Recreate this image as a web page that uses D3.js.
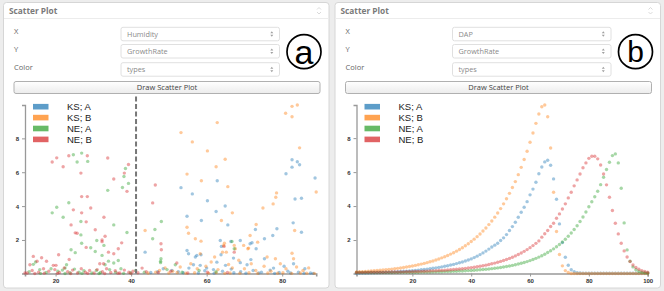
<!DOCTYPE html>
<html>
<head>
<meta charset="utf-8">
<script src="https://cdn.jsdelivr.net/npm/d3@7.9.0/dist/d3.min.js"></script>
<style>
  html, body { margin: 0; padding: 0; background: #ededed; }
  svg { display: block; }
  .ui { font-family: "Open Sans", "DejaVu Sans", sans-serif; }
  .axis text { font-family: "Liberation Sans", Arial, sans-serif; font-size: 6px; font-weight: bold; fill: #333; }
  .axis path, .axis line { stroke: #999; }
  .legend text { font-family: "Liberation Sans", Arial, sans-serif; font-size: 9.5px; fill: #222; }
</style>
</head>
<body>
<script>
// ─── DATA ────────────────────────────────────────────────────────────────────
const seriesNames = ['KS; A', 'KS; B', 'NE; A', 'NE; B'];

// panel (a) : [Humidity, GrowthRate]
const humKSA = [
  [53.2,5.09],[62.8,5.5],[56.2,4.72],[82.6,6.74],[84.0,6.62],[84.6,6.44],[82.6,6.3],[81.0,5.91],[88.7,5.66],
  [60.2,4.32],[64.9,4.01],[62.5,3.68],[54.8,3.4],[58.6,3.15],[65.6,2.89],[83.4,4.42],[85.1,4.46],
  [82.9,3.01],[85.1,2.46],[78.6,2.66],[77.5,2.26],[75.3,2.07],[72.9,2.62],[72.0,1.84],[73.1,1.48],
  [63.6,1.97],[66.4,1.91],[68.9,1.97],[71.5,1.78],[63.9,1.62],
  [54.8,1.38],[55.2,1.19],[57.0,0.99],[58.5,1.13],[43.7,1.28],[57.4,1.09],[63.8,1.13],[67.1,0.93],[71.7,0.84],[75.3,0.89],
  [56.5,0.54],[55.3,0.34],[58.3,0.5],[60.0,0.34],[62.7,0.69],[65.0,0.5],[68.9,0.66],[70.7,0.54],[77.7,0.34],[80.5,0.45],[83.0,0.6],[86.0,0.3],
  [48.5,0.3],[50.8,0.2],[52.5,0.12],[59.5,0.18],[61.8,0.25],[64.2,0.15],[66.5,0.28],[69.0,0.12],[72.3,0.2],[74.5,0.1],[76.8,0.22],[79.2,0.08],[81.5,0.15],[84.3,0.1],[87.5,0.05],
  [45.2,0.08],[47.0,0.12],[53.8,0.06],[57.8,0.05],[62.0,0.04],[67.2,0.06],[70.4,0.04],[73.8,0.05],[78.0,0.03],[82.2,0.05],[85.8,0.04],[88.2,0.03]
];
const humKSB = [
  [53.2,8.34],[62.8,8.93],[56.2,7.79],[60.2,7.26],[64.9,6.77],[62.5,6.32],[54.8,5.89],[58.6,5.5],[65.6,5.15],[78.5,4.78],
  [80.9,9.48],[82.6,9.28],[82.6,9.89],[84.0,9.97],[84.6,7.44],[89.0,4.83],
  [66.8,3.6],[63.9,3.15],[54.8,2.75],[55.2,2.4],[57.0,2.07],[58.5,1.93],[64.7,1.81],[64.2,1.28],[62.1,0.99],[67.3,1.68],
  [74.9,3.89],[77.6,4.13],[78.3,4.52],[73.1,2.91],[69.8,1.68],[70.9,1.48],[83.3,2.56],[82.6,1.22],[43.7,2.56],
  [58.3,1.19],[64.5,1.68],[65.2,1.28],[67.6,1.48],[71.5,2.26],[71.1,1.52],[73.5,1.87],[76.0,0.99],[78.2,0.89],[83.0,0.89],
  [47.5,0.2],[49.0,0.35],[51.0,0.15],[53.0,0.4],[55.8,0.6],[57.5,0.3],[59.8,0.45],[61.2,0.7],[63.0,0.25],[65.8,0.55],[66.8,0.35],
  [68.5,0.8],[70.0,0.3],[71.8,0.6],[73.0,0.2],[75.2,0.45],[77.0,0.15],[79.5,0.6],[81.0,0.3],[83.8,0.4],[85.5,0.2],[87.0,0.35],
  [44.5,0.05],[46.5,0.1],[50.0,0.05],[52.2,0.08],[54.5,0.04],[56.8,0.06],[60.5,0.04],[62.5,0.07],[64.8,0.03],[66.2,0.05],
  [68.8,0.04],[71.2,0.06],[73.5,0.03],[76.2,0.05],[78.8,0.04],[80.2,0.06],[82.5,0.03],[84.8,0.05],[86.5,0.04],[88.5,0.03]
];
const humNEA = [
  [24.7,7.03],[26.9,7.13],[25.7,6.6],[28.5,6.64],[38.5,6.22],[38.1,5.75],[39.3,5.34],[37.7,5.1],[33.8,4.93],
  [20.3,3.93],[19.1,3.6],[23.5,4.2],[22.0,3.34],[26.7,3.09],[26.7,2.3],[35.4,2.89],[32.8,1.68],[38.9,2.44],
  [30.9,1.97],[29.3,1.54],[26.9,1.81],[24.1,1.42],[25.2,1.25],[30.5,1.32],[32.3,1.09],[34.0,0.75],[35.4,0.64],[36.6,0.79],
  [14.1,0.56],[14.7,0.7],[22.9,0.54],[22.5,0.34],[33.1,0.54],[46.3,2.62],[45.7,2.07],[48.0,3.09],[47.9,0.89],[47.8,0.74],
  [47.8,0.66],[51.7,0.54],[66.7,1.91],[67.3,1.48],
  [13.0,0.12],[15.8,0.25],[17.5,0.08],[18.8,0.3],[20.6,0.15],[21.8,0.22],[23.8,0.06],[25.0,0.28],[26.2,0.1],[27.5,0.18],
  [29.6,0.05],[30.8,0.2],[31.9,0.08],[34.3,0.25],[35.9,0.1],[37.3,0.3],[39.8,0.06],[41.2,0.2],[43.5,0.1],[49.5,0.25],
  [53.5,0.1],[58.0,0.2],[62.5,0.12],[16.0,0.03],[22.5,0.02],[27.0,0.03],[31.5,0.02],[38.0,0.03]
];
const humNEB = [
  [19.1,6.6],[20.3,6.85],[23.5,6.97],[28.4,6.97],[22.0,6.32],[33.8,6.84],[26.7,5.95],[39.3,6.46],[38.2,5.95],[35.4,5.6],
  [38.9,4.87],[46.4,5.25],[26.9,4.56],[28.4,4.56],[45.7,4.19],[24.7,3.78],[26.9,3.6],[29.3,3.89],[32.8,3.34],[28.1,3.07],
  [24.1,2.89],[25.2,2.42],[25.7,2.4],[30.5,2.6],[33.1,2.22],[32.3,2.0],[32.3,1.9],[37.5,1.83],[36.6,1.48],[35.4,1.19],
  [34.0,1.28],[28.1,1.56],[47.9,1.78],[48.0,1.42],[64.6,1.62],[67.3,1.28],[20.8,1.13],[16.3,0.95],[14.1,1.03],[15.1,0.74],
  [17.6,0.74],[23.6,0.85],[32.7,0.6],[31.7,0.6],[13.2,0.54],[19.4,0.5],[20.1,0.5],[52.1,0.64],[42.9,0.34],
  [11.9,0.05],[12.5,0.05],[13.8,0.2],[15.5,0.1],[16.8,0.3],[18.2,0.15],[19.8,0.25],[21.0,0.08],[22.3,0.35],[23.2,0.12],
  [24.5,0.22],[25.8,0.05],[26.8,0.3],[27.9,0.1],[29.0,0.2],[30.2,0.05],[31.0,0.25],[32.4,0.12],[33.5,0.3],[34.6,0.08],
  [35.8,0.18],[37.0,0.05],[38.2,0.22],[39.4,0.1],[40.5,0.15],[41.8,0.06],[44.0,0.12],[47.2,0.08],[50.5,0.15],[55.0,0.05],
  [60.2,0.1],[65.5,0.08],[14.5,0.02],[17.0,0.04],[20.5,0.03],[24.0,0.02],[28.5,0.03],[33.0,0.02],[36.5,0.04],[40.0,0.03]
];
const splitHumidity = 41.3;

// panel (b) : GrowthRate by DAP
const dapDays = [
  1,2,3,4,5,6,7,8,9,10,11,12,13,14,15,16,17,18,19,20,21,22,23,24,25,26,27,28,29,30,31,32,33,34,35,36,37,38,39,40,
  41,42,43,44,45,46,47,48,49,50,51,52,53,54,55,56,57,58,59,60,61,62,63,64,65,66,67,68,69,70,71,72,73,74,75,76,77,78,79,80,
  81,82,83,84,85,86,87,88,89,90,91,92,93,94,95,96,97,98,99,100
];
const dapKSA = [
  0.048,0.051,0.055,0.060,0.064,0.070,0.075,0.081,0.087,0.094,0.101,0.109,0.117,0.127,0.137,0.147,0.159,0.171,0.184,0.199,
  0.214,0.231,0.249,0.268,0.289,0.311,0.336,0.362,0.390,0.420,0.453,0.488,0.527,0.567,0.612,0.659,0.711,0.766,0.826,0.89,
  0.967,1.051,1.142,1.242,1.349,1.466,1.594,1.70,1.81,1.97,2.13,2.32,2.56,2.79,3.05,3.34,3.64,3.93,4.26,4.66,
  5.0,5.4,5.9,6.3,6.6,6.7,6.4,5.6,4.4,2.95,1.85,0.99,0.52,0.25,0.13,0.07,0.06,0.05,0.05,0.05,
  0.05,0.05,0.05,0.05,0.05,0.05,0.05,0.05,0.05,0.05,0.05,0.05,0.05,0.05,0.05,0.05,0.05,0.05,0.05,0.05
];
const dapKSB = [
  0.125,0.134,0.143,0.154,0.165,0.177,0.190,0.204,0.218,0.234,0.251,0.269,0.289,0.310,0.332,0.356,0.382,0.410,0.440,0.471,
  0.506,0.542,0.582,0.624,0.669,0.718,0.770,0.825,0.885,0.950,1.018,1.092,1.171,1.256,1.347,1.445,1.550,1.662,1.783,1.912,
  2.051,2.199,2.359,2.530,2.713,2.910,3.121,3.347,3.590,3.850,4.130,4.429,4.75,5.09,5.44,5.85,6.28,6.74,7.23,7.76,
  8.30,8.87,9.42,9.85,9.95,9.26,7.42,4.81,2.5,1.15,0.48,0.2,0.09,0.03,0.03,0.03,0.03,0.03,0.03,0.03,
  0.03,0.03,0.03,0.03,0.03,0.03,0.03,0.03,0.03,0.03,0.03,0.03,0.03,0.03,0.03,0.03,0.03,0.03,0.03,0.03
];
const dapNEA = [
  0.085,0.085,0.086,0.086,0.087,0.087,0.088,0.089,0.089,0.090,0.091,0.092,0.093,0.094,0.096,0.097,0.099,0.100,0.102,0.104,
  0.106,0.108,0.111,0.114,0.116,0.120,0.123,0.127,0.131,0.136,0.141,0.146,0.152,0.158,0.165,0.173,0.181,0.190,0.200,0.210,
  0.222,0.234,0.248,0.263,0.279,0.297,0.316,0.337,0.359,0.384,0.411,0.440,0.472,0.507,0.545,0.586,0.631,0.679,0.732,0.790,
  0.853,0.921,0.996,1.077,1.166,1.262,1.367,1.481,1.605,1.741,1.888,2.048,2.223,2.413,2.620,2.845,3.090,3.357,3.648,3.964,
  4.25,4.55,4.87,5.26,5.7,6.15,6.58,6.97,7.07,6.54,5.05,3.01,1.42,0.75,0.42,0.25,0.16,0.11,0.08,0.06
];
const dapNEB = [
  0.093,0.094,0.095,0.097,0.098,0.100,0.101,0.103,0.105,0.107,0.109,0.112,0.114,0.117,0.120,0.124,0.127,0.131,0.135,0.140,
  0.145,0.150,0.156,0.163,0.169,0.177,0.185,0.194,0.203,0.213,0.225,0.237,0.250,0.264,0.279,0.296,0.314,0.333,0.354,0.377,
  0.402,0.428,0.457,0.489,0.523,0.560,0.600,0.643,0.690,0.741,0.796,0.855,0.920,0.990,1.066,1.148,1.237,1.333,1.438,1.551,
  1.673,1.806,1.950,2.17,2.37,2.56,2.8,2.99,3.28,3.54,3.83,4.13,4.48,4.81,5.19,5.54,5.89,6.26,6.54,6.81,
  6.93,6.93,6.78,6.42,5.89,5.25,4.52,3.74,2.99,2.36,1.81,1.36,1.0,0.74,0.53,0.38,0.28,0.2,0.15,0.1
];

// ─── RECORDS ─────────────────────────────────────────────────────────────────
const humSeries = [humKSA, humKSB, humNEA, humNEB];
const dapSeries = [dapKSA, dapKSB, dapNEA, dapNEB];
const pointsA = seriesNames.flatMap((s, i) => humSeries[i].map(([x, y]) => ({ group: s, x, y })));
const pointsB = seriesNames.flatMap((s, i) => dapSeries[i].map((y, j) => ({ group: s, x: dapDays[j], y })));

const color = d3.scaleOrdinal().domain(seriesNames).range(d3.schemeCategory10);

// ─── SVG ─────────────────────────────────────────────────────────────────────
const svg = d3.select('body').append('svg')
  .attr('width', 664)
  .attr('height', 291);

const defs = svg.append('defs');
const grad = defs.append('linearGradient').attr('id', 'btn').attr('x1', 0).attr('x2', 0).attr('y1', 0).attr('y2', 1);
grad.append('stop').attr('offset', '0%').attr('stop-color', '#ffffff');
grad.append('stop').attr('offset', '100%').attr('stop-color', '#ececec');

drawPanel(3, { tag: 'a', xField: 'Humidity', points: pointsA, split: splitHumidity, tagSize: 34 });
drawPanel(334.5, { tag: 'b', xField: 'DAP', points: pointsB, split: null, tagSize: 30 });

function drawPanel(x0, opts) {
  const g = svg.append('g').attr('transform', `translate(${x0},0)`);

  // frame + header
  g.append('rect')
    .attr('x', 0.5).attr('y', 2.5)
    .attr('width', 325.5).attr('height', 285.5)
    .attr('rx', 3)
    .attr('fill', '#fff')
    .attr('stroke', '#d6d6d6');
  g.append('line')
    .attr('x1', 1).attr('x2', 325.5)
    .attr('y1', 18.5).attr('y2', 18.5)
    .attr('stroke', '#ececec');
  g.append('text')
    .attr('class', 'ui')
    .attr('x', 6).attr('y', 13.5)
    .attr('font-size', 8.3)
    .attr('font-weight', 'bold')
    .attr('fill', '#7a7a7a')
    .text('Scatter Plot');
  g.append('path')
    .attr('d', 'M314,9.5L316,7.5L318,9.5M314,12L316,14L318,12')
    .attr('fill', 'none')
    .attr('stroke', '#d0d0d0')
    .attr('stroke-width', 0.8);

  // form rows
  const rows = [['X', opts.xField], ['Y', 'GrowthRate'], ['Color', 'types']];
  rows.forEach(([label, value], i) => {
    const by = [27.3, 44.5, 62.7][i];
    g.append('text')
      .attr('class', 'ui')
      .attr('x', 11).attr('y', by + 7)
      .attr('font-size', 7.5)
      .attr('fill', '#666')
      .text(label);
    g.append('rect')
      .attr('x', 118).attr('y', by)
      .attr('width', 158.5).attr('height', 13.5)
      .attr('rx', 2)
      .attr('fill', '#fff')
      .attr('stroke', '#e0e0e0');
    g.append('text')
      .attr('class', 'ui')
      .attr('x', 124).attr('y', by + 9.3)
      .attr('font-size', 7.3)
      .attr('fill', '#8a8a8a')
      .text(value);
    g.append('path')
      .attr('d', `M267.3,${by + 6}l1.5,-2l1.5,2zM267.3,${by + 7.5}l1.5,2l1.5,-2z`)
      .attr('fill', '#a0a0a0');
  });

  // circled panel tag
  g.append('circle')
    .attr('cx', 301).attr('cy', 51.7).attr('r', 17)
    .attr('fill', 'none')
    .attr('stroke', '#000')
    .attr('stroke-width', 1.7);
  g.append('text')
    .attr('x', 301).attr('y', 51.7)
    .attr('dy', '0.35em')
    .attr('text-anchor', 'middle')
    .attr('font-family', '"Liberation Sans", Arial, sans-serif')
    .attr('font-size', opts.tagSize)
    .attr('fill', '#000')
    .text(opts.tag);

  // button
  g.append('rect')
    .attr('x', 11).attr('y', 81.5)
    .attr('width', 306).attr('height', 12)
    .attr('rx', 2)
    .attr('fill', 'url(#btn)')
    .attr('stroke', '#b0b0b0');
  g.append('text')
    .attr('class', 'ui')
    .attr('x', 164).attr('y', 90.3)
    .attr('text-anchor', 'middle')
    .attr('font-size', 7.5)
    .attr('fill', '#444')
    .text('Draw Scatter Plot');

  // ─── scatter ───
  const x = d3.scaleLinear()
    .domain(d3.extent(opts.points, d => d.x))
    .range([22, 313.2]);
  const y = d3.scaleLinear()
    .domain(d3.extent(opts.points, d => d.y))
    .range([273.5, 105]);

  g.append('g')
    .attr('class', 'axis')
    .attr('transform', 'translate(0,273.5)')
    .call(d3.axisBottom(x).ticks(5).tickSize(3).tickPadding(2))
    .call(a => a.select('.domain').attr('stroke', '#aaa').attr('stroke-width', 1.6));
  g.append('g')
    .attr('class', 'axis')
    .attr('transform', 'translate(22,0)')
    .call(d3.axisLeft(y).ticks(5).tickSize(3).tickPadding(3))
    .call(a => a.select('.domain').attr('stroke', '#999').attr('stroke-width', 1.3));

  g.append('g')
    .selectAll('circle')
    .data(opts.points)
    .join('circle')
      .attr('cx', d => x(d.x))
      .attr('cy', d => y(d.y))
      .attr('r', 1.7)
      .attr('fill', d => color(d.group))
      .attr('fill-opacity', 0.42);

  if (opts.split != null) {
    g.append('line')
      .attr('x1', x(opts.split)).attr('x2', x(opts.split))
      .attr('y1', 96.5).attr('y2', 273.5)
      .attr('stroke', '#777')
      .attr('stroke-width', 2)
      .attr('stroke-dasharray', '5,2.5');
  }

  // legend
  const legend = g.append('g').attr('class', 'legend');
  seriesNames.forEach((s, i) => {
    const ly = 106.7 + i * 10.9;
    legend.append('rect')
      .attr('x', 30).attr('y', ly - 2.8)
      .attr('width', 15.5).attr('height', 5.6)
      .attr('fill', color(s))
      .attr('fill-opacity', 0.72);
    legend.append('text')
      .attr('x', 64).attr('y', ly)
      .attr('dy', '0.35em')
      .text(s);
  });
}
</script>
</body>
</html>
